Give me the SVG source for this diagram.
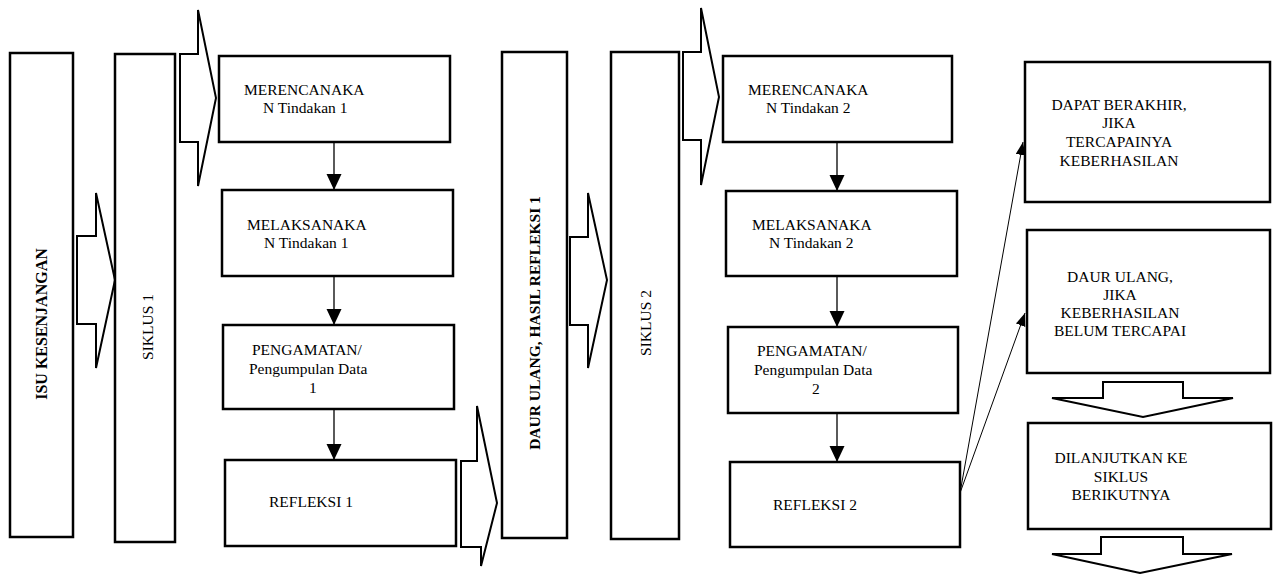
<svg xmlns="http://www.w3.org/2000/svg" width="1274" height="574" viewBox="0 0 1274 574" font-family="'Liberation Serif', 'Times New Roman', 'DejaVu Serif', serif">
<style>
.box{fill:#fff;stroke:#000;stroke-width:2.5}
.blk{fill:#fff;stroke:#000;stroke-width:2;stroke-linejoin:miter}
.t{font-family:'Liberation Serif','Times New Roman','DejaVu Serif',serif;font-size:15.5px;fill:#000}
.c{text-anchor:middle}
.b{font-weight:bold}
.ln{stroke:#000;stroke-width:1.3;fill:none}
.thin{stroke:#000;stroke-width:1;fill:none}
</style>
<defs>
<marker id="ah" markerUnits="userSpaceOnUse" markerWidth="17" markerHeight="16" refX="16" refY="7.5" orient="auto">
<path d="M0,0 L16,7.5 L0,15 z" fill="#000"/>
</marker>
<marker id="ahs" markerUnits="userSpaceOnUse" markerWidth="14" markerHeight="11" refX="13" refY="5" orient="auto">
<path d="M0,0 L13,5 L0,10 z" fill="#000"/>
</marker>
</defs>

<g id="isu">
<rect class="box" x="10" y="53" width="63" height="484"/>
<text class="t c b" style="font-size:16px" transform="translate(47,324) rotate(-90)">ISU KESENJANGAN</text>
</g>
<g id="arrow-isu-siklus1">
<polygon class="blk" points="77,236 96,236 96,193 115,280 96,368 96,324 77,324"/>
</g>
<g id="siklus1">
<rect class="box" x="115" y="54" width="60" height="488"/>
<text class="t c" transform="translate(153,327) rotate(-90)">SIKLUS 1</text>
</g>
<g id="arrow-siklus1-plan1">
<polygon class="blk" points="180,54 198,54 198,10 216,98 198,186 198,142 180,142"/>
</g>
<g id="plan1">
<rect class="box" x="219" y="56" width="231" height="86"/>
<text class="t" x="244" y="95">MERENCANAKA</text>
<text class="t" x="263" y="113">N Tindakan 1</text>
</g>
<g id="act1">
<rect class="box" x="222" y="190" width="231" height="86"/>
<text class="t" x="247" y="230">MELAKSANAKA</text>
<text class="t" x="264" y="248">N Tindakan 1</text>
</g>
<g id="obs1">
<rect class="box" x="223" y="325" width="231" height="84"/>
<text class="t" x="252" y="355">PENGAMATAN/</text>
<text class="t" x="249" y="374">Pengumpulan Data</text>
<text class="t" x="309" y="393">1</text>
</g>
<g id="ref1">
<rect class="box" x="225" y="460" width="231" height="86"/>
<text class="t" x="269" y="507">REFLEKSI 1</text>
</g>
<g id="arrow-ref1-daur">
<polygon class="blk" points="461,461 477,461 477,406 497,503 481,566 481,547 461,547"/>
</g>
<g id="daur">
<rect class="box" x="502" y="52" width="65" height="486"/>
<text class="t c b" transform="translate(540,323) rotate(-90)">DAUR ULANG, HASIL REFLEKSI 1</text>
</g>
<g id="arrow-daur-siklus2">
<polygon class="blk" points="570,237 588,237 588,193 607,280 588,368 588,325 570,325"/>
</g>
<g id="siklus2">
<rect class="box" x="611" y="52" width="68" height="487"/>
<text class="t c" transform="translate(651,323) rotate(-90)">SIKLUS 2</text>
</g>
<g id="arrow-siklus2-plan2">
<polygon class="blk" points="683,52 701,52 701,8 719,97 701,185 701,140 683,140"/>
</g>
<g id="plan2">
<rect class="box" x="723" y="56" width="229" height="86"/>
<text class="t" x="748" y="95">MERENCANAKA</text>
<text class="t" x="766" y="113">N Tindakan 2</text>
</g>
<g id="act2">
<rect class="box" x="726" y="191" width="231" height="85"/>
<text class="t" x="752" y="230">MELAKSANAKA</text>
<text class="t" x="769" y="248">N Tindakan 2</text>
</g>
<g id="obs2">
<rect class="box" x="728" y="327" width="230" height="86"/>
<text class="t" x="757" y="356">PENGAMATAN/</text>
<text class="t" x="754" y="375">Pengumpulan Data</text>
<text class="t" x="812" y="394">2</text>
</g>
<g id="ref2">
<rect class="box" x="730" y="462" width="230" height="85"/>
<text class="t" x="773" y="510">REFLEKSI 2</text>
</g>
<g id="end">
<rect class="box" x="1025" y="62" width="245" height="140"/>
<text class="t c" x="1119" y="110">DAPAT BERAKHIR,</text>
<text class="t c" x="1119" y="128">JIKA</text>
<text class="t c" x="1119" y="147">TERCAPAINYA</text>
<text class="t c" x="1119" y="166">KEBERHASILAN</text>
</g>
<g id="recycle">
<rect class="box" x="1027" y="230" width="243" height="143"/>
<text class="t c" x="1120" y="282">DAUR ULANG,</text>
<text class="t c" x="1120" y="300">JIKA</text>
<text class="t c" x="1120" y="318">KEBERHASILAN</text>
<text class="t c" x="1120" y="336">BELUM TERCAPAI</text>
</g>
<g id="arrow-recycle-next">
<polygon class="blk" points="1103,382 1183,382 1183,398 1233,398 1143,417 1052,398 1103,398"/>
</g>
<g id="next">
<rect class="box" x="1028" y="423" width="243" height="106"/>
<text class="t c" x="1121" y="463">DILANJUTKAN KE</text>
<text class="t c" x="1121" y="482">SIKLUS</text>
<text class="t c" x="1121" y="500">BERIKUTNYA</text>
</g>
<g id="arrow-next-down">
<polygon class="blk" points="1101,537 1183,537 1183,554 1232,554 1140,573 1052,554 1101,554"/>
</g>

<g id="connectors">
<line class="ln" x1="334" y1="142" x2="334" y2="190" marker-end="url(#ah)"/>
<line class="ln" x1="334" y1="276" x2="334" y2="325" marker-end="url(#ah)"/>
<line class="ln" x1="334" y1="409" x2="334" y2="460" marker-end="url(#ah)"/>
<line class="ln" x1="837" y1="142" x2="837" y2="191" marker-end="url(#ah)"/>
<line class="ln" x1="837" y1="276" x2="837" y2="327" marker-end="url(#ah)"/>
<line class="ln" x1="837" y1="413" x2="837" y2="462" marker-end="url(#ah)"/>
<line class="thin" x1="960" y1="493" x2="1023" y2="142" marker-end="url(#ahs)"/>
<line class="thin" x1="960" y1="493" x2="1025" y2="313" marker-end="url(#ahs)"/>
</g>
</svg>
